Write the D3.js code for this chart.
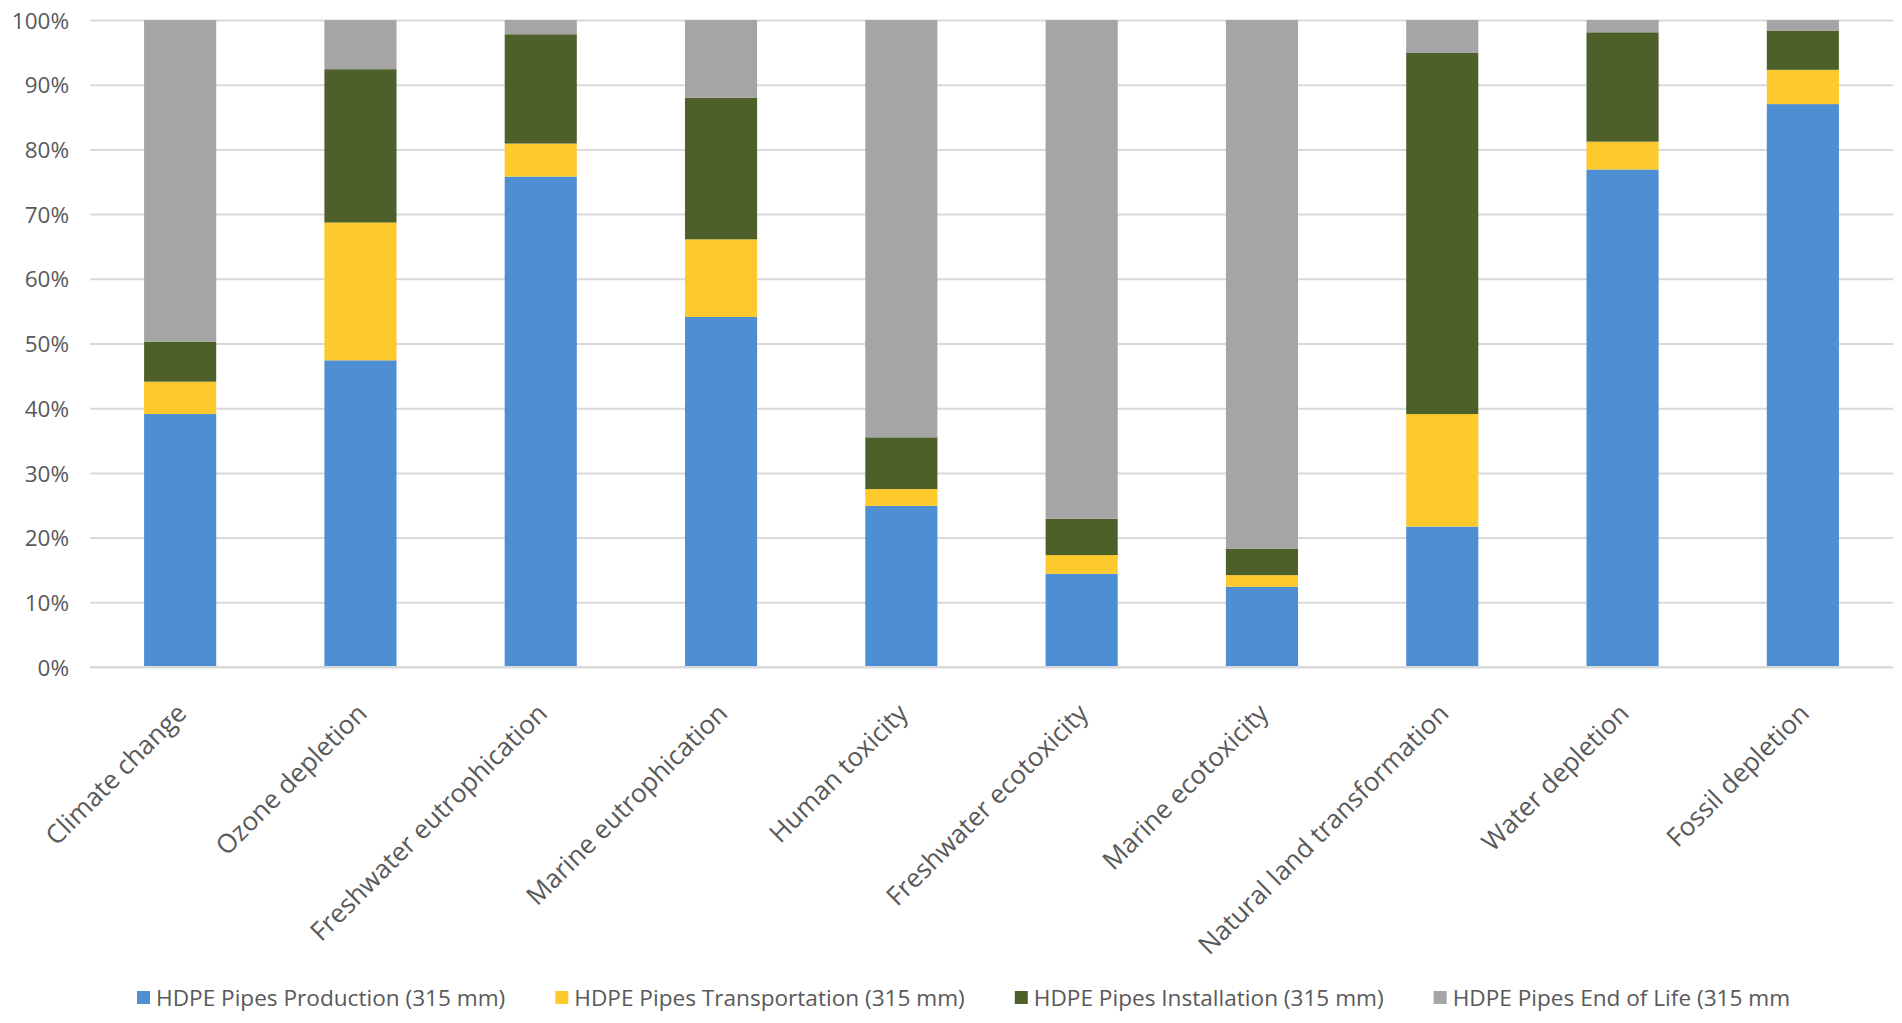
<!DOCTYPE html>
<html>
<head>
<meta charset="utf-8">
<script src="https://cdn.jsdelivr.net/npm/d3@7"></script>
<style>
    html, body { margin: 0; padding: 0; background: #fff; }
    svg { display: block; font-family: "Open Sans", sans-serif; }
</style>
</head>
<body>
<svg id="chart" width="1902" height="1023"></svg>
<script>
'use strict';

/*==============================
=            Data              =
==============================*/

var categories = [
    "Climate change", "Ozone depletion", "Freshwater eutrophication",
    "Marine eutrophication", "Human toxicity", "Freshwater ecotoxicity",
    "Marine ecotoxicity", "Natural land transformation", "Water depletion",
    "Fossil depletion"
];

// share of each life-cycle stage, in %
var production     = [39.1, 47.4, 75.8, 54.1, 24.9, 14.4, 12.4, 21.7, 76.9, 87.0];
var transportation = [ 5.0, 21.3,  5.1, 12.0,  2.6,  2.9,  1.8, 17.4,  4.3,  5.3];
var installation   = [ 6.2, 23.7, 16.9, 21.9,  8.0,  5.6,  4.1, 55.8, 16.9,  6.0];
var endOfLife      = [49.7,  7.6,  2.2, 12.0, 64.5, 77.1, 81.7,  5.1,  1.9,  1.7];

var seriesNames = [
    "HDPE Pipes Production (315 mm)",
    "HDPE Pipes Transportation (315 mm)",
    "HDPE Pipes Installation (315 mm)",
    "HDPE Pipes End of Life (315 mm"
];

var yTicks = [0, 10, 20, 30, 40, 50, 60, 70, 80, 90, 100];

/*=====  End of Data  ======*/

var colors = ["#4e8ed2", "#fec92c", "#4e6029", "#a5a5a5"];
var textColor = "#595959";
var gridColor = "#d9d9d9";

var width = 1902, height = 1023;
var margin = { top: 20, right: 9, bottom: 356, left: 90 };

var svg = d3.select("#chart");

// rows for the stack
var seriesValues = [production, transportation, installation, endOfLife];
var keys = d3.range(seriesNames.length);
var rows = categories.map(function (c, i) {
    var r = { category: c };
    keys.forEach(function (k) { r[k] = seriesValues[k][i]; });
    return r;
});
var stacked = d3.stack().keys(keys)(rows);

var x = d3.scaleBand()
    .domain(categories)
    .range([margin.left, width - margin.right])
    .paddingInner(0.6)
    .paddingOuter(0.3);

var y = d3.scaleLinear()
    .domain([0, 100])
    .range([height - margin.bottom, margin.top]);

// gridlines + y labels
var yAxis = d3.axisLeft(y)
    .tickValues(yTicks)
    .tickSize(-(width - margin.left - margin.right))
    .tickPadding(21)
    .tickFormat(function (d) { return d + "%"; });

var gy = svg.append("g")
    .attr("transform", "translate(" + margin.left + ",0)")
    .call(yAxis)
    .attr("font-family", null)
    .attr("font-size", null);
gy.select(".domain").remove();
gy.selectAll(".tick line")
    .attr("stroke", gridColor)
    .attr("stroke-width", 2);
gy.selectAll(".tick text")
    .attr("fill", textColor)
    .style("font-size", "22.5px")
    .attr("dy", "0.36em");

// bars
svg.append("g")
    .selectAll("g")
    .data(stacked)
    .join("g")
        .attr("fill", function (d) { return colors[d.key]; })
    .selectAll("rect")
    .data(function (d) { return d; })
    .join("rect")
        .attr("x", function (d) { return x(d.data.category); })
        .attr("width", x.bandwidth())
        .attr("y", function (d) { return y(d[1]); })
        .attr("height", function (d) { return y(d[0]) - y(d[1]); });

// x axis line and rotated category labels
var xAxis = d3.axisBottom(x).tickSize(0).tickPadding(0);
var gx = svg.append("g")
    .attr("transform", "translate(0," + y(0) + ")")
    .call(xAxis)
    .attr("font-family", null)
    .attr("font-size", null);
gx.select(".domain")
    .attr("stroke", gridColor)
    .attr("stroke-width", 2)
    .attr("d", "M" + margin.left + ",0H" + (width - margin.right));
gx.selectAll(".tick text")
    .attr("fill", textColor)
    .style("font-size", "26px")
    .attr("text-anchor", "end")
    .attr("x", 0)
    .attr("y", 0)
    .attr("dy", 0)
    .attr("transform", "translate(8,48) rotate(-45)");

/*==============================
=            Legend            =
==============================*/

var legend = svg.append("g")
    .attr("transform", "translate(137," + 998 + ")");

var cursor = 0;
seriesNames.forEach(function (name, i) {
    var item = legend.append("g").attr("transform", "translate(" + cursor + ",0)");
    item.append("rect")
        .attr("x", 0)
        .attr("y", -7)
        .attr("width", 13)
        .attr("height", 13)
        .attr("fill", colors[i]);
    var t = item.append("text")
        .attr("x", 19)
        .attr("y", 0)
        .attr("dy", "0.35em")
        .attr("fill", textColor)
        .style("font-size", "22.6px")
        .text(name);
    cursor += 19 + t.node().getComputedTextLength() + 50;
});

/*=====  End of Legend  ======*/
</script>
</body>
</html>
